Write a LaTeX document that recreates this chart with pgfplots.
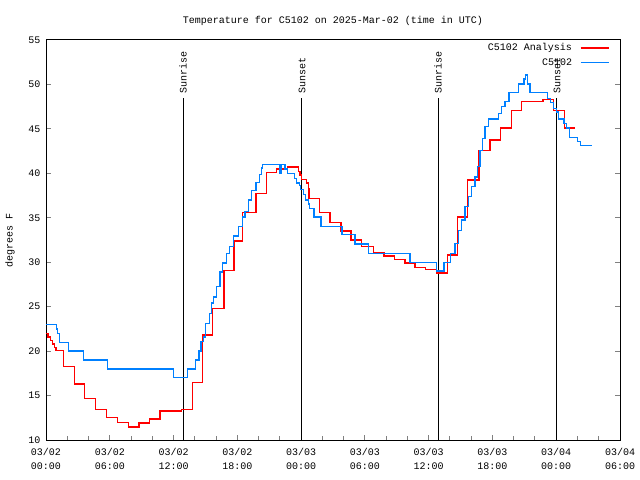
\documentclass[border=0pt]{standalone}
\usepackage{fontspec}
\setmainfont{Liberation Mono}
\usepackage{pgfplots}
\pgfplotsset{compat=1.18}
\definecolor{obsblue}{RGB}{0,128,255}
\begin{document}
\begin{tikzpicture}[font=\fontsize{10bp}{12bp}\selectfont]
\path[use as bounding box] (0,0) rectangle (640bp,480bp);
\begin{axis}[
  at={(46bp,40bp)}, anchor=south west,
  scale only axis, width=574bp, height=400bp,
  xmin=0, xmax=54, ymin=10, ymax=55,
  xtick={0,6,...,54},
  minor x tick num=2,
  xticklabels={{03/02\\00:00},{03/02\\06:00},{03/02\\12:00},{03/02\\18:00},{03/03\\00:00},{03/03\\06:00},{03/03\\12:00},{03/03\\18:00},{03/04\\00:00},{03/04\\06:00}},
  ytick={10,15,...,55},
  xtick pos=left, ytick pos=both,
  major tick length=5bp, minor tick length=4bp,
  axis line style={line width=1bp},
  tick style={line width=1bp},
  /pgf/number format/assume math mode=true,
  tick label style={font=\fontsize{10bp}{13bp}\selectfont},
  xticklabel style={align=center, yshift=-5bp, font=\fontsize{10bp}{14bp}\selectfont},
  yticklabel style={xshift=-2bp},
  title={Temperature for C5102 on 2025-Mar-02 (time in UTC)},
  every axis title/.style={at={(rel axis cs:0.5,1)}, yshift=19bp, anchor=center, font=\fontsize{10bp}{12bp}\selectfont},
  ylabel={degrees F},
  every axis y label/.style={at={(rel axis cs:0,0.5)}, xshift=-36bp, rotate=90, anchor=center, font=\fontsize{10bp}{12bp}\selectfont},
  legend style={draw=none, fill=none, at={(rel axis cs:1,1)}, anchor=north east, xshift=-10bp, yshift=-1bp, font=\fontsize{10bp}{12bp}\selectfont, row sep=2bp, inner sep=0.5bp, column sep=6bp},
  legend cell align=right,
  legend plot pos=right,
  legend image code/.code={\draw[#1] (0bp,0bp) -- (28bp,0bp);},
]
\addplot[black, line width=1bp, forget plot] coordinates {(12.89,10) (12.89,48.5)};
\addplot[black, line width=1bp, forget plot] coordinates {(24.08,10) (24.08,48.5)};
\addplot[black, line width=1bp, forget plot] coordinates {(36.88,10) (36.88,48.5)};
\addplot[black, line width=1bp, forget plot] coordinates {(48.07,10) (48.07,48.5)};
\addplot[red, line width=1.3bp, const plot] coordinates {
(0,22.0) (0.2,21.6) (0.4,21.2) (0.6,20.8) (0.8,20.4) (0.95,20.1) (1.63,18.3) (2.70,16.3) (3.64,14.7) (4.64,13.4) (5.71,12.55) (6.71,12.0) (7.74,11.46) (8.75,11.9) (9.72,12.36) (10.72,13.26) (12.76,13.4) (13.76,16.45) (14.70,21.8) (15.66,24.8) (16.75,29.1) (17.69,32.4) (18.50,35.6) (19.76,37.75) (20.76,40.1) (21.70,40.5) (22.74,40.7) (23.74,40.2) (23.9,39.8) (24.05,39.3) (24.53,38.9) (24.68,38.3) (24.74,37.2) (25.71,35.6) (26.72,34.45) (27.75,33.5) (28.69,32.5) (29.70,31.75) (30.79,31.1) (31.80,30.7) (32.77,30.3) (33.77,29.9) (34.71,29.4) (35.72,29.2) (36.75,28.8) (37.75,30.8) (38.70,35.1) (39.67,39.25) (40.73,42.6) (41.77,43.75) (42.78,45.1) (43.81,47.1) (44.75,48.1) (46.76,48.3) (47.73,47.1) (48.75,45.1) (49.72,45.1)
};
\addlegendentry{C5102 Analysis}
\addplot[obsblue, line width=1.3bp, const plot] coordinates {
(0,23.0) (1.0,22.5) (1.1,22.0) (1.25,21.0) (2.12,20.0) (3.53,19.0) (5.80,18.0) (11.98,17.0) (13.29,18.0) (14.06,19.0) (14.39,20.0) (14.58,21.1) (14.80,21.6) (15.02,23.1) (15.36,24.25) (15.59,25.4) (15.74,26.1) (16.06,27.25) (16.37,28.9) (16.62,29.9) (17.00,31.0) (17.24,31.75) (17.62,32.95) (18.09,34.0) (18.50,35.1) (18.72,35.7) (19.03,37.0) (19.35,38.1) (19.76,39.0) (20.07,39.9) (20.29,40.6) (20.40,41.0) (22.01,40.0) (22.17,41.0) (22.48,40.5) (22.70,40.0) (23.36,39.4) (23.58,38.9) (23.83,38.6) (23.96,38.2) (24.21,37.6) (24.43,37.0) (24.68,36.55) (24.77,36.05) (25.21,35.1) (25.87,34.0) (27.85,33.1) (29.07,32.05) (30.32,31.0) (34.24,30.0) (36.76,29.0) (37.44,30.0) (38.07,31.0) (38.48,32.1) (38.79,33.6) (39.11,34.75) (39.42,36.25) (39.73,37.4) (40.05,38.5) (40.36,39.6) (40.58,40.75) (40.83,42.6) (41.05,43.9) (41.30,45.25) (41.61,46.1) (42.55,46.75) (42.87,47.5) (43.18,48.1) (43.56,49.1) (44.45,50.05) (44.97,50.6) (45.11,51.06) (45.28,50.05) (45.53,49.1) (47.16,48.4) (47.48,47.95) (47.72,47.3) (48.04,46.9) (48.19,46.1) (48.73,45.6) (48.98,45.1) (49.23,44.05) (50.02,43.55) (50.30,43.1) (51.34,43.1)
};
\addlegendentry{C5102}
\node[rotate=90, anchor=west, inner sep=1bp] at (axis cs:12.89,48.9) {Sunrise};
\node[rotate=90, anchor=west, inner sep=1bp] at (axis cs:24.08,48.9) {Sunset};
\node[rotate=90, anchor=west, inner sep=1bp] at (axis cs:36.88,48.9) {Sunrise};
\node[rotate=90, anchor=west, inner sep=1bp] at (axis cs:48.07,48.9) {Sunset};
\end{axis}
\end{tikzpicture}
\end{document}
